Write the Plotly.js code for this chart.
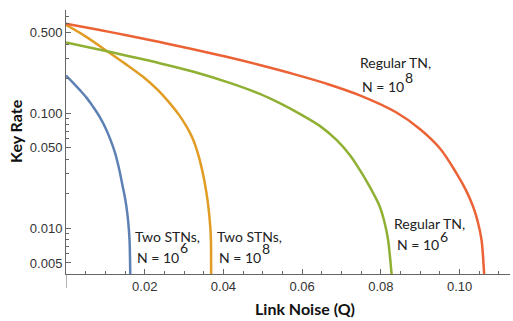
<!DOCTYPE html>
<html>
<head>
<meta charset="utf-8">
<script src="https://cdn.plot.ly/plotly-3.0.1.min.js"></script>
<style>
  html, body { margin: 0; padding: 0; background: #fff; }
  #chart { width: 513px; height: 321px; }
</style>
</head>
<body>
<div id="chart"></div>
<script>
// values (Q = link noise, r = key rate)
const qTwo6 = [0, 0.0017, 0.00348, 0.00526, 0.00686, 0.00856, 0.01027, 0.01136, 0.01238, 0.01314,
               0.01377, 0.01441, 0.01492, 0.01535, 0.01581, 0.01614, 0.01632, 0.01635];
const rTwo6 = [0.2127, 0.1856, 0.1597, 0.1361, 0.1143, 0.0930, 0.0717, 0.0581, 0.0461, 0.0370,
               0.0297, 0.0231, 0.0189, 0.01543, 0.01136, 0.00792, 0.00407, 0.0035];

const qTwo8 = [0, 0.00475, 0.0106, 0.01492, 0.01949, 0.0233, 0.02635, 0.02889, 0.03067, 0.03194,
               0.03283, 0.03372, 0.03449, 0.03525, 0.03609, 0.03665, 0.03682, 0.03687, 0.0369];
const rTwo8 = [0.5867, 0.4709, 0.3439, 0.2715, 0.2084, 0.1597, 0.1224, 0.0949, 0.0761, 0.0630,
               0.0529, 0.0422, 0.0332, 0.0249, 0.01626, 0.01035, 0.00792, 0.00407, 0.0035];

const qReg6 = [0, 0.00983, 0.02381, 0.0322, 0.0416, 0.04922, 0.05431, 0.05939, 0.06447, 0.06872,
               0.0721, 0.07464, 0.07718, 0.07972, 0.0809, 0.08183, 0.0827, 0.0829];
const rReg6 = [0.4117, 0.349, 0.2724, 0.2307, 0.1837, 0.1474, 0.1224, 0.0988, 0.0777, 0.0587,
               0.04346, 0.0322, 0.0229, 0.01543, 0.01136, 0.00792, 0.00407, 0.0035];

const qReg8 = [0, 0.00856, 0.01535, 0.02381, 0.03227, 0.04076, 0.04922, 0.05769, 0.06618, 0.07464,
               0.08396, 0.08989, 0.09497, 0.09921, 0.10157, 0.10343, 0.10463, 0.10557, 0.10623, 0.1064];
const rReg8 = [0.599, 0.529, 0.477, 0.4163, 0.3604, 0.3095, 0.2627, 0.2200, 0.1809, 0.1432,
               0.1016, 0.0731, 0.0497, 0.0301, 0.0216, 0.01543, 0.01136, 0.00792, 0.00407, 0.0035];

const xTickVals = [0.02, 0.04, 0.06, 0.08, 0.10];
const xTickText = ['0.02', '0.04', '0.06', '0.08', '0.10'];
const xMinorVals = [0.005, 0.01, 0.015, 0.025, 0.03, 0.035, 0.045, 0.05, 0.055, 0.065, 0.07, 0.075,
                    0.085, 0.09, 0.095, 0.105, 0.11];
const yTickVals = [0.005, 0.01, 0.05, 0.1, 0.5];
const yTickText = ['0.005', '0.010', '0.050', '0.100', '0.500'];
const yMinorVals = [0.006, 0.007, 0.008, 0.009, 0.02, 0.03, 0.04, 0.06, 0.07, 0.08, 0.09,
                    0.2, 0.3, 0.4, 0.6, 0.7];

const labelLine1 = ['Two STNs,', 'Two STNs,', 'Regular TN,', 'Regular TN,'];
const labelLine2 = ['N = 10', 'N = 10', 'N = 10', 'N = 10'];
const labelExp = ['6', '8', '6', '8'];

const colors = ['#5e81b5', '#e19c24', '#8fb032', '#eb6235'];

// plot box in pixels: x 66..510, y 10..274
const W = 513, H = 321, L = 66, R = 3, T = 10, B = 47;
const pw = W - L - R, ph = H - T - B;
const px = v => (v - L) / pw;
const py = v => (H - B - v) / ph;

function curve(x, y, c) {
  return {x: x, y: y, type: 'scatter', mode: 'lines',
          line: {color: c, width: 2.5, shape: 'spline', smoothing: 1},
          hoverinfo: 'skip'};
}

const data = [
  curve(qTwo6, rTwo6, colors[0]),
  curve(qTwo8, rTwo8, colors[1]),
  curve(qReg6, rReg6, colors[2]),
  curve(qReg8, rReg8, colors[3]),
];

// [x line1, y line1, x line2, y line2, y exponent] in pixels; exponent sits after "N = 10"
const labelPos = [
  [133.5, 235, 136, 256, 246.5],
  [216, 235, 218.3, 256, 247.5],
  [393.3, 222.3, 396, 243.7, 235.5],
  [359.3, 61, 361, 86, 76],
];
const labelFont = {family: 'Lato, sans-serif', size: 14, color: '#222'};
function note(t, x, y) {
  return {text: t, xref: 'paper', yref: 'paper', x: px(x), y: py(y + 1),
          xanchor: 'left', yanchor: 'middle', showarrow: false, font: labelFont, borderpad: 0};
}
const annotations = [];
labelPos.forEach((p, i) => {
  annotations.push(note(labelLine1[i], p[0], p[1]));
  annotations.push(note(labelLine2[i], p[2], p[3]));
  annotations.push(note(labelExp[i], p[2] + 42.5, p[4]));
});
annotations.push({
  text: '<b>Key Rate</b>', textangle: -90, xref: 'paper', yref: 'paper',
  x: px(15), y: py(131), xanchor: 'center', yanchor: 'middle', showarrow: false,
  font: {family: 'Lato, sans-serif', size: 16, color: '#111'},
});
annotations.push({
  text: '<b>Link Noise (Q)</b>', xref: 'paper', yref: 'paper',
  x: px(305), y: py(308), xanchor: 'center', yanchor: 'middle', showarrow: false,
  font: {family: 'Lato, sans-serif', size: 16, color: '#111'},
});

const axisColor = '#666';
const tickFont = {family: 'Liberation Sans, Arial, sans-serif', size: 13, color: '#333'};

const layout = {
  width: W, height: H,
  margin: {l: L, r: R, t: T, b: B, pad: 0},
  paper_bgcolor: '#fff', plot_bgcolor: '#fff',
  showlegend: false,
  xaxis: {
    range: [0, 0.1128], showgrid: false, zeroline: false,
    showline: true, linecolor: axisColor, linewidth: 1,
    tickmode: 'array', tickvals: xTickVals, ticktext: xTickText,
    ticks: 'inside', ticklen: 5, tickcolor: axisColor, tickwidth: 1,
    tickfont: tickFont,
    minor: {tickmode: 'array', tickvals: xMinorVals, ticks: 'inside', ticklen: 3,
            tickcolor: axisColor, tickwidth: 1, showgrid: false},
  },
  yaxis: {
    type: 'log', range: [Math.log10(0.00401), Math.log10(0.79)],
    showgrid: false, zeroline: false,
    showline: true, linecolor: axisColor, linewidth: 1,
    tickmode: 'array', tickvals: yTickVals, ticktext: yTickText,
    ticks: 'inside', ticklen: 5, tickcolor: axisColor, tickwidth: 1,
    tickfont: tickFont,
    minor: {tickmode: 'array', tickvals: yMinorVals, ticks: 'inside', ticklen: 3,
            tickcolor: axisColor, tickwidth: 1, showgrid: false},
  },
  shapes: [{
    type: 'line', xref: 'x', yref: 'paper', x0: 0, x1: 0, y0: -14 / ph, y1: 0,
    line: {color: axisColor, width: 1},
  }],
  annotations: annotations,
};

Plotly.newPlot('chart', data, layout, {displayModeBar: false, staticPlot: true});
</script>
</body>
</html>
